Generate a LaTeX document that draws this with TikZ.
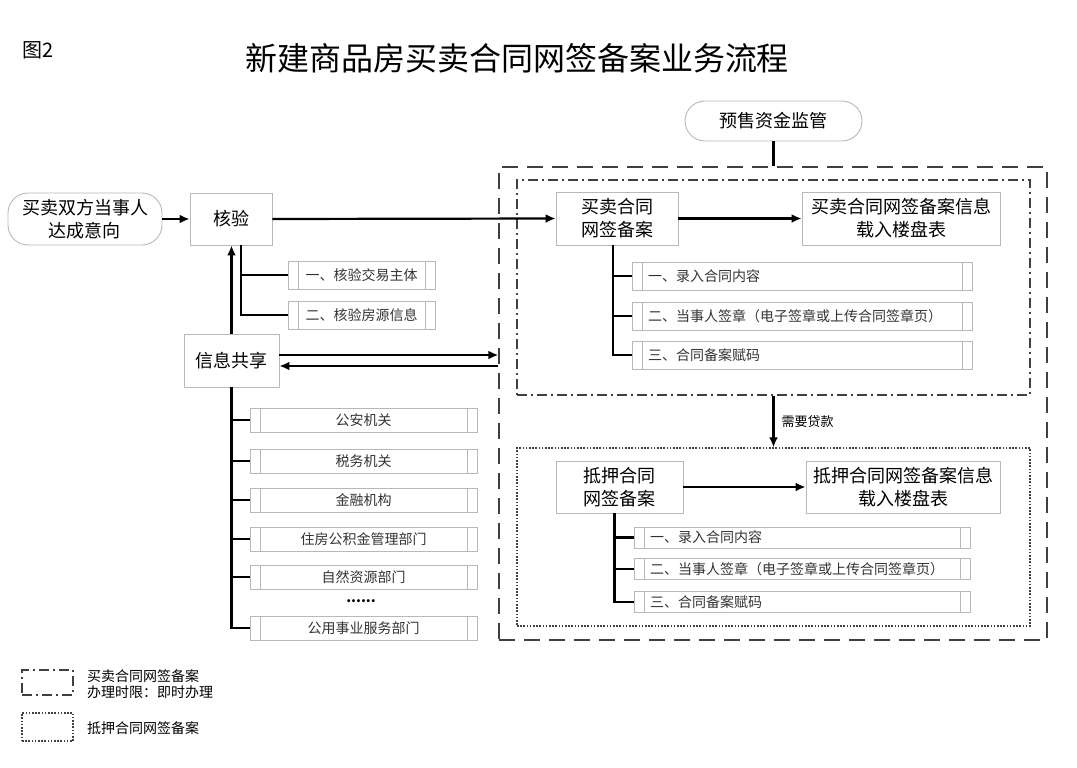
\documentclass[tikz,border=0pt]{standalone}
\usepackage{fontspec}
\setmainfont{Noto Sans CJK SC}
\usetikzlibrary{arrows.meta}
\begin{document}
\begin{tikzpicture}[x=1pt,y=-1pt,
  box/.style={draw=black!28, line width=0.9, fill=white, inner sep=0pt, align=center,
    font=\fontsize{18}{23}\selectfont},
  term/.style={box, rounded corners=20pt},
  itembox/.style={draw=black!28, line width=0.9, inner ysep=0pt, inner xsep=16pt,
    text=black!80, font=\fontsize{14}{16}\selectfont,
    path picture={
      \draw[black!28, line width=0.9]
        ([xshift=10pt]path picture bounding box.north west) -- ([xshift=10pt]path picture bounding box.south west)
        ([xshift=-10pt]path picture bounding box.north east) -- ([xshift=-10pt]path picture bounding box.south east);
    }},
  conn/.style={line width=2.2pt, black},
  arr/.style={conn, -{Latex[length=10pt,width=9pt]}},
  frame/.style={inner sep=0pt, line width=1.5pt, draw=black!75},
  dashfr/.style={frame, dash pattern=on 16pt off 9pt},
  dashdotfr/.style={frame, line width=1.3pt, dash pattern=on 10pt off 4pt on 2pt off 4pt},
  dotfr/.style={frame, line width=1.3pt, dash pattern=on 1.6pt off 1.6pt},
  plain/.style={inner sep=0pt},
]
\useasboundingbox (0,0) rectangle (1077,768);

% titles
\node[plain, font=\fontsize{32}{36}\selectfont] (title) at (517,58) {新建商品房买卖合同网签备案业务流程};
\node[plain, font=\fontsize{20}{24}\selectfont, anchor=west] (fig) at (22,50) {图2};

% frames
\node[dashfr, minimum width=548pt, minimum height=473pt] (outer) at (773,403.5) {};
\node[dashdotfr, minimum width=513pt, minimum height=215pt] (inner) at (773.5,287.5) {};
\node[dotfr, minimum width=513pt, minimum height=178pt] (dotb) at (773.5,537) {};

% main nodes
\node[term, minimum width=154pt, minimum height=52pt] (mm) at (85,219) {买卖双方当事人\\达成意向};
\node[box, minimum width=82pt, minimum height=52pt] (hy) at (231,219) {核验};
\node[term, minimum width=177pt, minimum height=40pt] (ys) at (773.5,121) {预售资金监管};
\node[box, minimum width=122pt, minimum height=53pt] (mb) at (617,218.5) {买卖合同\\网签备案};
\node[box, minimum width=198pt, minimum height=53pt] (mi) at (901,218.5) {买卖合同网签备案信息\\载入楼盘表};
\node[box, minimum width=95pt, minimum height=53pt] (xs) at (231.5,360.5) {信息共享};
\node[box, minimum width=127pt, minimum height=52pt] (mg) at (619.5,487) {抵押合同\\网签备案};
\node[box, minimum width=194pt, minimum height=52pt] (mgi) at (903,487) {抵押合同网签备案信息\\载入楼盘表};

% purchase contract items
\begin{scope}[every node/.style={itembox, minimum height=28pt, text width=308pt, align=left}]
\node (p1) at (802,276) {一、录入合同内容};
\node (p2) at (802,316) {二、当事人签章（电子签章或上传合同签章页）};
\node (p3) at (802,355) {三、合同备案赋码};
\end{scope}

% mortgage contract items
\begin{scope}[every node/.style={itembox, minimum height=21pt, text width=304pt, align=left}]
\node (q1) at (802,537.5) {一、录入合同内容};
\node (q2) at (802,569) {二、当事人签章（电子签章或上传合同签章页）};
\node (q3) at (802,602) {三、合同备案赋码};
\end{scope}

% verification items
\begin{scope}[every node/.style={itembox, minimum height=28pt, text width=115pt, align=center}]
\node (h1) at (361.5,275) {一、核验交易主体};
\node (h2) at (361.5,315) {二、核验房源信息};
\end{scope}

% information sharing items
\begin{scope}[every node/.style={itembox, minimum height=24pt, text width=195pt, align=center}]
\node (g1) at (363.5,420) {公安机关};
\node (g2) at (363.5,461) {税务机关};
\node (g3) at (363.5,500) {金融机构};
\node (g4) at (363.5,539) {住房公积金管理部门};
\node (g5) at (363.5,577) {自然资源部门};
\node (g6) at (363.5,628) {公用事业服务部门};
\end{scope}
\node[plain, font=\fontsize{14}{16}\selectfont\bfseries] (gd) at (361,601) {......};

% connectors
\draw[arr] (mm.east) -- (hy.west);
\draw[arr] (hy.east) -- (mb.west);
\draw[arr] (mb.east) -- (mi.west);
\draw[arr] (mg.east) -- (mgi.west);
\draw[arr] (xs.north) -- (xs.north |- hy.south);
\draw[conn] (ys.south) -- (ys.south |- outer.north);
\draw[arr] (inner.south) -- node[plain, right=7pt, font=\fontsize{13}{15}\selectfont] (loan) {需要贷款} (dotb.north);
\draw[arr] ([yshift=5.5pt]xs.east) -- ([yshift=5.5pt]xs.east -| outer.west);
\draw[arr] ([yshift=-5.5pt]xs.east -| outer.west) -- ([yshift=-5.5pt]xs.east);

\draw[conn] ([xshift=10pt]hy.south) |- (h1.west);
\draw[conn] ([xshift=10pt]hy.south) |- (h2.west);
\foreach \g in {g1,g2,g3,g4,g5,g6} \draw[conn] (xs.south) |- (\g.west);
\foreach \p in {p1,p2,p3} \draw[conn] ([xshift=-4pt]mb.south) |- (\p.west);
\foreach \q in {q1,q2,q3} \draw[conn] ([xshift=-5pt]mg.south) |- (\q.west);

% legend
\node[dashdotfr, minimum width=51pt, minimum height=25pt] (lg1) at (47.5,682.5) {};
\node[plain, anchor=west, align=left, font=\fontsize{14}{16}\selectfont] (lt1) at (87,684) {买卖合同网签备案\\办理时限：即时办理};
\node[dotfr, minimum width=51pt, minimum height=28pt] (lg2) at (47.5,727) {};
\node[plain, anchor=west, font=\fontsize{14}{16}\selectfont] (lt2) at (87,728) {抵押合同网签备案};
\end{tikzpicture}
\end{document}
